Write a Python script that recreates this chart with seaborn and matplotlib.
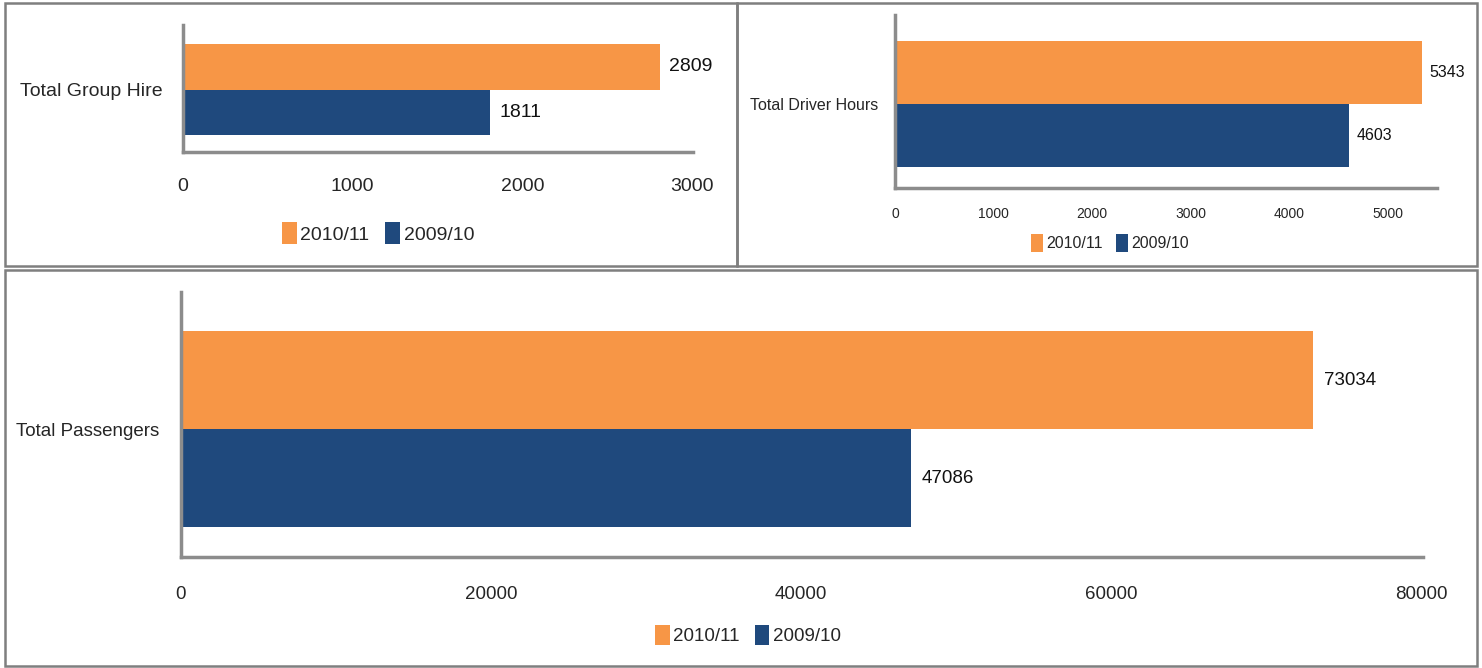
import pandas as pd
import matplotlib.pyplot as plt
import seaborn as sns
from matplotlib.patches import Rectangle

seasons = ["2010/11", "2009/10"]
group_hire = [2809, 1811]
driver_hours = [5343, 4603]
passengers = [73034, 47086]

ORANGE = "#F79646"
BLUE = "#1F497D"
SPINE = "#8c8c8c"
BORDER = "#7f7f7f"

sns.set_style("white")
plt.rcParams["font.family"] = ["Liberation Sans Narrow", "Liberation Sans", "DejaVu Sans"]

W, H = 1482, 668
fig = plt.figure(figsize=(W / 100, H / 100), dpi=100)


def px_axes(x0, y0, x1, y1):
    # pixel box (top-left origin) -> figure axes
    return fig.add_axes([x0 / W, 1 - y1 / H, (x1 - x0) / W, (y1 - y0) / H])


def draw_panel(ax, metric, values, xmax, ticks, ylim, fs, tick_fs, tick_pad, lab_pad, val_pad, leg_xy):
    df = pd.DataFrame({"metric": [metric] * 2, "season": seasons, "value": values})
    sns.barplot(data=df, x="value", y="metric", hue="season", hue_order=seasons,
                palette=[ORANGE, BLUE], orient="h", ax=ax, saturation=1, width=0.8,
                linewidth=0)
    ax.set_xlim(0, xmax)
    ax.set_ylim(*ylim)
    ax.set_xticks(ticks)
    ax.set_xlabel("")
    ax.set_ylabel("")
    for s in ["top", "right"]:
        ax.spines[s].set_visible(False)
    for s in ["left", "bottom"]:
        ax.spines[s].set_color(SPINE)
        ax.spines[s].set_linewidth(2.5)
    ax.tick_params(axis="x", length=0, pad=tick_pad, labelsize=tick_fs)
    ax.tick_params(axis="y", length=0, pad=lab_pad, labelsize=fs)
    for c in ax.containers:
        ax.bar_label(c, padding=val_pad, fontsize=fs, color="#111111")
    handles, labels = ax.get_legend_handles_labels()
    ax.legend(handles, labels, loc="center", bbox_to_anchor=leg_xy,
              bbox_transform=fig.transFigure, ncol=2, frameon=False,
              fontsize=fs, handlelength=0.75, handleheight=1.3,
              handletextpad=0.2, columnspacing=0.8)


ax1 = px_axes(183, 25, 693, 152)
draw_panel(ax1, "Total Group Hire", group_hire, 3000 * 510 / 509, [0, 1000, 2000, 3000],
           (0.549, -0.567), 14, 14, 19, 15, 7, (378 / W, 1 - 233 / H))

ax2 = px_axes(895, 15, 1437, 188)
draw_panel(ax2, "Total Driver Hours", driver_hours, 5500, [0, 1000, 2000, 3000, 4000, 5000],
           (0.533, -0.565), 11.5, 10, 14, 12, 6, (1110 / W, 1 - 243 / H))

ax3 = px_axes(181, 292, 1423, 557)
draw_panel(ax3, "Total Passengers", passengers, 80000 * 1242 / 1240,
           [0, 20000, 40000, 60000, 80000],
           (0.522, -0.559), 13.5, 13.5, 21, 16, 8, (748 / W, 1 - 635 / H))

# panel borders
for x0, y0, x1, y1 in [(5, 3, 737, 266), (737, 3, 1477, 266), (5, 270, 1477, 666)]:
    fig.patches.append(Rectangle((x0 / W, 1 - y1 / H), (x1 - x0) / W, (y1 - y0) / H,
                                 transform=fig.transFigure, fill=False,
                                 edgecolor=BORDER, linewidth=1.8))

fig.savefig("out.png", dpi=100)
